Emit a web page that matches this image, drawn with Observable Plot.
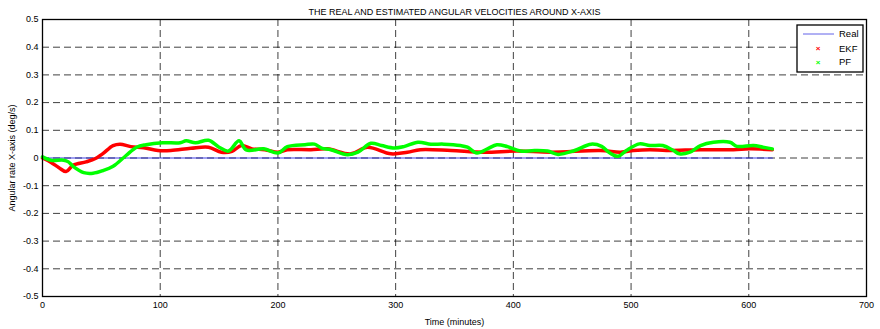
<!DOCTYPE html>
<html><head><meta charset="utf-8">
<script src="https://cdn.jsdelivr.net/npm/d3@7"></script>
<script src="https://cdn.jsdelivr.net/npm/@observablehq/plot@0.6"></script>
<style>body{margin:0;background:#fff}#c{width:880px;height:329px}</style>
</head><body><div id="c"></div>
<script>
const realT = [0, 620];
const realV = [0, 0];
const ekfT = [0, 7, 14, 20, 26, 37, 45, 51, 60, 66, 75, 86, 98, 109, 126, 141, 152, 161, 169, 178, 189, 200, 208, 228, 242, 262, 276, 296, 310, 321, 347, 375, 403, 432, 474, 491, 502, 516, 530, 559, 587, 601, 620];
const ekfV = [0, -0.015, -0.035, -0.049, -0.026, -0.014, -0.002, 0.015, 0.045, 0.05, 0.041, 0.037, 0.027, 0.027, 0.035, 0.039, 0.021, 0.024, 0.045, 0.033, 0.03, 0.021, 0.03, 0.03, 0.033, 0.015, 0.039, 0.015, 0.021, 0.03, 0.027, 0.021, 0.025, 0.021, 0.027, 0.021, 0.027, 0.03, 0.027, 0.03, 0.03, 0.033, 0.03];
const pfT = [0, 7, 18, 22, 26, 35, 43, 51, 60, 71, 80, 88, 102, 117, 122, 130, 141, 150, 158, 167, 173, 188, 200, 208, 223, 231, 237, 245, 259, 268, 279, 288, 299, 307, 319, 330, 341, 355, 361, 369, 378, 386, 395, 406, 418, 429, 438, 452, 466, 475, 482, 489, 496, 507, 516, 527, 536, 541, 550, 559, 570, 584, 590, 604, 612, 620];
const pfV = [0.004, -0.008, -0.008, -0.014, -0.03, -0.053, -0.055, -0.046, -0.03, 0.009, 0.039, 0.048, 0.055, 0.055, 0.062, 0.055, 0.064, 0.039, 0.025, 0.062, 0.029, 0.033, 0.018, 0.041, 0.048, 0.05, 0.036, 0.03, 0.012, 0.021, 0.053, 0.045, 0.036, 0.041, 0.057, 0.05, 0.05, 0.045, 0.039, 0.018, 0.033, 0.048, 0.041, 0.025, 0.027, 0.025, 0.013, 0.027, 0.05, 0.042, 0.018, 0.006, 0.027, 0.051, 0.045, 0.045, 0.027, 0.015, 0.021, 0.045, 0.057, 0.057, 0.042, 0.045, 0.039, 0.033];
const xTicks = [0, 100, 200, 300, 400, 500, 600, 700];
const yTicks = [-0.5, -0.4, -0.3, -0.2, -0.1, 0, 0.1, 0.2, 0.3, 0.4, 0.5];
const titleText = "THE REAL AND ESTIMATED ANGULAR VELOCITIES AROUND X-AXIS";
const seriesNames = ["Real", "EKF", "PF"];
const seriesColors = ["#0000ff", "#ff0000", "#00ff00"];

const toRows = (T, V) => T.map((t, i) => ({t, v: V[i]}));
const real = toRows(realT, realV), ekf = toRows(ekfT, ekfV), pf = toRows(pfT, pfV);

const plot = Plot.plot({
  width: 880, height: 329,
  marginLeft: 42, marginRight: 14, marginTop: 19, marginBottom: 33,
  style: {fontFamily: "Liberation Sans, Arial, sans-serif", fontSize: "9px", color: "#000", background: "#fff"},
  x: {domain: [0, 700]},
  y: {domain: [-0.5, 0.5]},
  marks: [
    Plot.gridX(xTicks, {stroke: "#000", strokeOpacity: 0.75, strokeDasharray: "7,4"}),
    Plot.gridY(yTicks, {stroke: "#000", strokeOpacity: 0.75, strokeDasharray: "7,4"}),
    Plot.axisX(xTicks, {tickSize: 0, tickPadding: 5, label: "Time (minutes)", labelAnchor: "center", labelOffset: 28, labelArrow: "none", tickFormat: d => String(d)}),
    Plot.axisY(yTicks, {tickSize: 0, tickPadding: 4, label: "Angular rate X-axis (deg/s)", labelAnchor: "center", labelOffset: 34, labelArrow: "none", tickFormat: d => String(+d.toFixed(1))}),
    Plot.line(real, {x: "t", y: "v", stroke: "#2020e0", strokeWidth: 1.2, strokeOpacity: 0.85}),
    Plot.line(ekf, {x: "t", y: "v", stroke: seriesColors[1], strokeWidth: 3.5, curve: "catmull-rom"}),
    Plot.line(pf, {x: "t", y: "v", stroke: seriesColors[2], strokeWidth: 3.5, curve: "catmull-rom"}),
    Plot.frame({stroke: "#000", strokeWidth: 1.3}),
    Plot.text([titleText], {frameAnchor: "top", dy: -11, fontSize: 9, text: d => d})
  ]
});
document.getElementById("c").appendChild(plot);

// legend
const svg = d3.select(plot);
const lg = svg.append("g").attr("text-anchor", "start");
lg.append("rect").attr("x", 797).attr("y", 25).attr("width", 66).attr("height", 47)
  .attr("fill", "#fff").attr("stroke", "#000").attr("stroke-width", 1.3);
lg.append("line").attr("x1", 803).attr("x2", 834).attr("y1", 34).attr("y2", 34).attr("stroke", "#2020e0").attr("stroke-opacity", 0.7);
[["EKF", 1, 48.5], ["PF", 2, 62]].forEach(([n, i, y]) => {
  lg.append("text").attr("x", 818).attr("y", y).attr("text-anchor", "middle").attr("dy", "0.35em")
    .attr("fill", seriesColors[i]).attr("font-size", 8).attr("font-weight", "bold").text("×");
});
seriesNames.forEach((n, i) => {
  lg.append("text").attr("x", 839).attr("y", [34, 48.5, 62][i]).attr("dy", "0.35em").attr("text-anchor", "start")
    .attr("font-size", 9.5).attr("font-family", "Liberation Sans, Arial, sans-serif").text(n);
});
</script></body></html>
